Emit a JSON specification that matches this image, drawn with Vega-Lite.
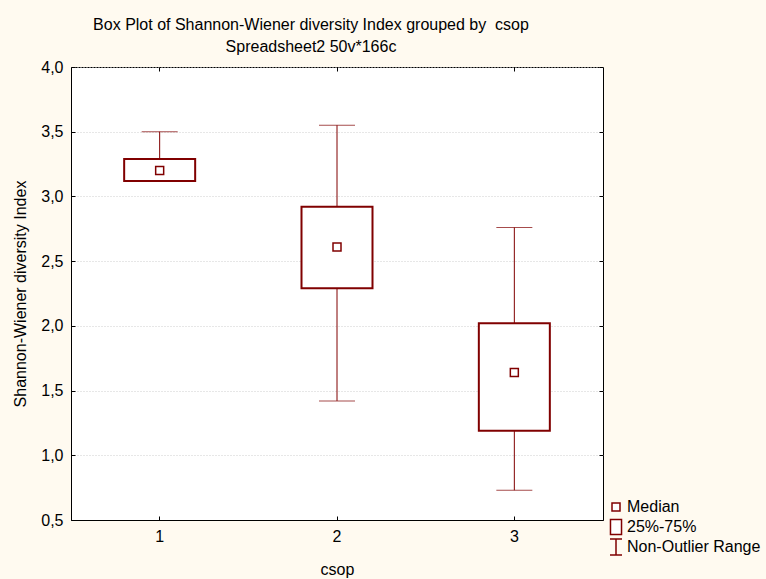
{
  "$schema": "https://vega.github.io/schema/vega-lite/v6.json",
  "width": 532,
  "height": 453,
  "autosize": "none",
  "padding": {"left": 71, "top": 67, "right": 163, "bottom": 59},
  "background": "#FFFAF0",
  "config": {
    "font": "Liberation Sans",
    "view": {"fill": "white", "stroke": "#000", "strokeWidth": 1},
    "axis": {
      "labelFont": "Liberation Sans",
      "labelFontSize": 16,
      "labelColor": "#000",
      "titleFont": "Liberation Sans",
      "titleFontSize": 16,
      "titleFontWeight": "normal",
      "titleColor": "#000",
      "domainColor": "#000",
      "tickColor": "#000",
      "tickSize": -4,
      "grid": false
    },
    "legend": {
      "orient": "none",
      "legendX": 536,
      "legendY": 431,
      "title": null,
      "symbolSize": 256,
      "symbolStrokeWidth": 1.5,
      "labelFont": "Liberation Sans",
      "labelFontSize": 16,
      "labelColor": "#000",
      "labelOffset": 2,
      "rowPadding": -3,
      "gridAlign": "all"
    }
  },
  "title": {
    "text": ["Box Plot of Shannon-Wiener diversity Index grouped by \u00a0csop", "Spreadsheet2 50v*166c"],
    "font": "Liberation Sans",
    "fontSize": 16,
    "fontWeight": "normal",
    "color": "#000",
    "anchor": "middle",
    "baseline": "alphabetic",
    "lineHeight": 22,
    "offset": -9,
    "dx": -26
  },
  "data": {
    "values": [
      {"csop": "1", "min": 3.12, "q1": 3.12, "median": 3.20, "q3": 3.29, "max": 3.50},
      {"csop": "2", "min": 1.42, "q1": 2.29, "median": 2.61, "q3": 2.92, "max": 3.55},
      {"csop": "3", "min": 0.73, "q1": 1.19, "median": 1.64, "q3": 2.02, "max": 2.76}
    ]
  },
  "layer": [
    {
      "mark": {"type": "rule", "color": "#800000", "strokeWidth": 1},
      "encoding": {
        "x": {
          "field": "csop", "type": "ordinal",
          "scale": {"type": "band", "paddingInner": 0, "paddingOuter": 0},
          "axis": {"orient": "top", "labels": false, "domain": false, "title": null, "bandPosition": 0.5}
        },
        "y": {
          "field": "max", "type": "quantitative",
          "scale": {"domain": [0.5, 4], "nice": false, "zero": false},
          "axis": {"orient": "right", "labels": false, "domain": false, "title": null, "values": [0.5, 1, 1.5, 2, 2.5, 3, 3.5, 4]}
        },
        "y2": {"field": "q3"}
      }
    },
    {
      "mark": {"type": "rule", "color": "#800000", "strokeWidth": 1},
      "encoding": {
        "x": {"field": "csop", "type": "ordinal", "axis": null},
        "y": {"field": "q1", "type": "quantitative", "axis": null},
        "y2": {"field": "min"}
      }
    },
    {
      "mark": {"type": "tick", "orient": "horizontal", "size": 36, "thickness": 1, "color": "#800000"},
      "encoding": {
        "x": {"field": "csop", "type": "ordinal", "axis": null},
        "y": {"field": "max", "type": "quantitative", "axis": null}
      }
    },
    {
      "mark": {"type": "tick", "orient": "horizontal", "size": 36, "thickness": 1, "color": "#800000"},
      "encoding": {
        "x": {"field": "csop", "type": "ordinal", "axis": null},
        "y": {"field": "min", "type": "quantitative", "axis": null}
      }
    },
    {
      "mark": {"type": "bar", "width": 71, "fill": "white", "stroke": "#800000", "strokeWidth": 2},
      "encoding": {
        "x": {
          "field": "csop", "type": "ordinal",
          "axis": {"orient": "bottom", "labelAngle": 0, "labelPadding": 12, "title": "csop", "titlePadding": 17, "bandPosition": 0.5}
        },
        "y": {
          "field": "q1", "type": "quantitative",
          "axis": {
            "orient": "left",
            "title": "Shannon-Wiener diversity Index",
            "values": [0.5, 1, 1.5, 2, 2.5, 3, 3.5, 4],
            "labelExpr": "replace(format(datum.value, '.1f'), '.', ',')",
            "labelPadding": 12,
            "titlePadding": 12,
            "grid": true,
            "gridColor": "#cfcfcf",
            "gridDash": [1, 2],
            "gridWidth": 1
          }
        },
        "y2": {"field": "q3"}
      }
    },
    {
      "mark": {"type": "point", "filled": false, "fill": "white", "fillOpacity": 1, "opacity": 1, "size": 256, "strokeWidth": 1.5},
      "encoding": {
        "x": {"field": "csop", "type": "ordinal", "axis": null},
        "y": {"field": "median", "type": "quantitative", "axis": null},
        "stroke": {
          "datum": "Median",
          "type": "nominal",
          "scale": {
            "domain": ["Median", "25%-75%", "Non-Outlier Range"],
            "range": ["#800000", "#800000", "#800000"]
          }
        },
        "shape": {
          "datum": "Median",
          "type": "nominal",
          "scale": {
            "domain": ["Median", "25%-75%", "Non-Outlier Range"],
            "range": [
              "M-0.5,-0.5H0.5V0.5H-0.5Z",
              "M-0.69,-0.94H0.69V0.94H-0.69Z",
              "M-0.75,-1H0.75M0,-1V1M-0.75,1H0.75"
            ]
          }
        }
      }
    }
  ],
  "resolve": {"axis": {"x": "independent", "y": "independent"}}
}
